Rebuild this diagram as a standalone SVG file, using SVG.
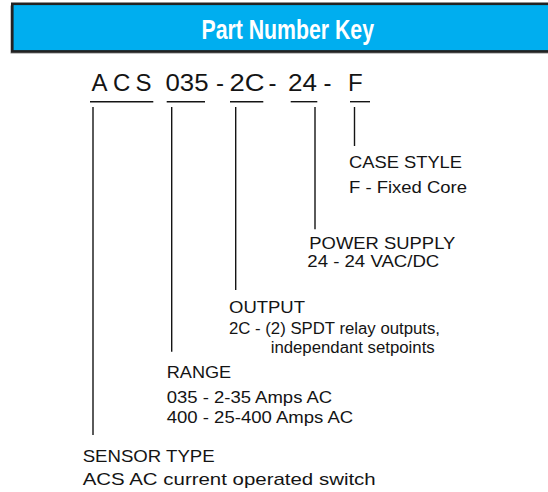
<svg xmlns="http://www.w3.org/2000/svg" width="548" height="492" viewBox="0 0 548 492">
<style>
.t{font-family:"Liberation Sans",Arial,sans-serif;font-size:17px;fill:#141414}
.s{font-size:16px}
.pn{font-family:"Liberation Sans",Arial,sans-serif;font-size:24px;fill:#141414}
.ttl{font-family:"Liberation Sans Narrow","Liberation Sans",Arial,sans-serif;font-weight:bold;font-size:28px;fill:#ffffff}
.ln{stroke:#141414;stroke-width:1.4;fill:none}
</style>
<rect width="548" height="492" fill="#ffffff"/>
<g id="header">
<rect x="10.5" y="5.5" width="545" height="48" fill="#8a8a8a"/>
<rect x="12.3" y="3.8" width="545" height="47.6" fill="#00AEEF" stroke="#222222" stroke-width="2.6"/>
<text class="ttl" x="201.5" y="39.3" textLength="172.5" lengthAdjust="spacingAndGlyphs">Part Number Key</text>
</g>
<g id="part-number">
<text class="pn" x="91.5" y="91">A</text>
<text class="pn" x="113" y="91">C</text>
<text class="pn" x="135.5" y="91">S</text>
<text class="pn" x="165.5" y="91" textLength="43" lengthAdjust="spacingAndGlyphs">035</text>
<text class="pn" x="216" y="91">-</text>
<text class="pn" x="229.5" y="91" textLength="35" lengthAdjust="spacingAndGlyphs">2C</text>
<text class="pn" x="268.5" y="91">-</text>
<text class="pn" x="288" y="91" textLength="29" lengthAdjust="spacingAndGlyphs">24</text>
<text class="pn" x="323.5" y="91">-</text>
<text class="pn" x="348" y="91">F</text>
</g>
<g id="connectors">
<line class="ln" x1="90" y1="101.7" x2="153.3" y2="101.7"/>
<line class="ln" x1="166.7" y1="101.7" x2="205" y2="101.7"/>
<line class="ln" x1="230" y1="101.7" x2="263.3" y2="101.7"/>
<line class="ln" x1="290.7" y1="101.7" x2="317.3" y2="101.7"/>
<line class="ln" x1="350" y1="101.7" x2="370" y2="101.7"/>
<line class="ln" x1="93" y1="107" x2="93" y2="435"/>
<line class="ln" x1="171.7" y1="107" x2="171.7" y2="351.7"/>
<line class="ln" x1="235.7" y1="107" x2="235.7" y2="290"/>
<line class="ln" x1="315" y1="107" x2="315" y2="229.3"/>
<line class="ln" x1="354.5" y1="107" x2="354.5" y2="146"/>
</g>
<g id="case-style">
<text class="t" x="349" y="168.3" textLength="113" lengthAdjust="spacingAndGlyphs">CASE STYLE</text>
<text class="t" x="349" y="192.7" textLength="118" lengthAdjust="spacingAndGlyphs">F - Fixed Core</text>
</g>
<g id="power-supply">
<text class="t" x="309.3" y="249" font-size="15.6" textLength="146" lengthAdjust="spacingAndGlyphs">POWER SUPPLY</text>
<text class="t" x="307.3" y="266.6" font-size="15.6" textLength="132" lengthAdjust="spacingAndGlyphs">24 - 24 VAC/DC</text>
</g>
<g id="output">
<text class="t" x="229" y="312.7" textLength="76" lengthAdjust="spacingAndGlyphs">OUTPUT</text>
<text class="t s" x="229" y="334.3" textLength="211" lengthAdjust="spacingAndGlyphs">2C - (2) SPDT relay outputs,</text>
<text class="t s" x="270.7" y="353.3" textLength="164" lengthAdjust="spacingAndGlyphs">independant setpoints</text>
</g>
<g id="range">
<text class="t" x="166.7" y="378.3" textLength="64.5" lengthAdjust="spacingAndGlyphs">RANGE</text>
<text class="t" x="166.7" y="402.7" textLength="165.5" lengthAdjust="spacingAndGlyphs">035 - 2-35 Amps AC</text>
<text class="t" x="166.7" y="422.7" textLength="186.5" lengthAdjust="spacingAndGlyphs">400 - 25-400 Amps AC</text>
</g>
<g id="sensor-type">
<text class="t" x="82.7" y="461.7" textLength="132" lengthAdjust="spacingAndGlyphs">SENSOR TYPE</text>
<text class="t" x="82.7" y="485" textLength="293" lengthAdjust="spacingAndGlyphs">ACS AC current operated switch</text>
</g>
</svg>
